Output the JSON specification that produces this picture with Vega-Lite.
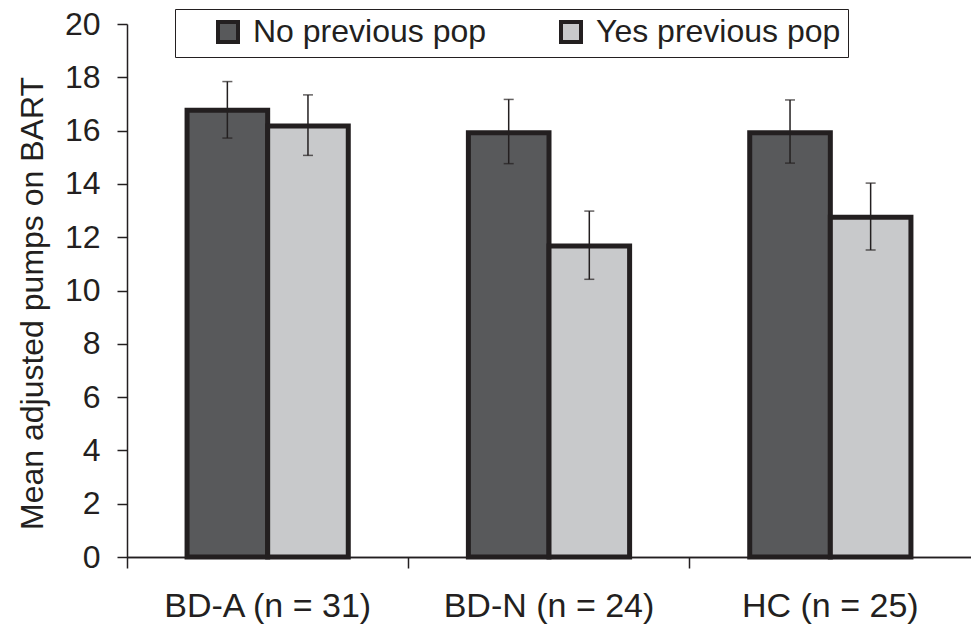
{
  "$schema": "https://vega.github.io/schema/vega-lite/v6.json",
  "width": 844,
  "height": 533,
  "autosize": {"type": "none"},
  "padding": {"left": 127, "top": 24, "right": 0, "bottom": 72},
  "background": "white",
  "config": {
    "view": {"stroke": null},
    "font": "Liberation Sans",
    "axis": {
      "domainColor": "#231f20",
      "domainWidth": 1.5,
      "tickColor": "#231f20",
      "tickWidth": 1.5,
      "tickSize": 10,
      "labelFontSize": 32,
      "labelColor": "#231f20",
      "titleColor": "#231f20",
      "grid": false
    }
  },
  "data": {
    "values": [
      {"group": "BD-A (n = 31)", "prev": "No previous pop", "mean": 16.76, "lo": 15.72, "hi": 17.84},
      {"group": "BD-A (n = 31)", "prev": "Yes previous pop", "mean": 16.17, "lo": 15.07, "hi": 17.34},
      {"group": "BD-N (n = 24)", "prev": "No previous pop", "mean": 15.92, "lo": 14.76, "hi": 17.17},
      {"group": "BD-N (n = 24)", "prev": "Yes previous pop", "mean": 11.67, "lo": 10.42, "hi": 12.98},
      {"group": "HC (n = 25)", "prev": "No previous pop", "mean": 15.92, "lo": 14.78, "hi": 17.15},
      {"group": "HC (n = 25)", "prev": "Yes previous pop", "mean": 12.75, "lo": 11.52, "hi": 14.03}
    ]
  },
  "resolve": {"axis": {"x": "independent"}},
  "layer": [
    {
      "mark": {"type": "bar", "stroke": "#231f20", "strokeWidth": 5},
      "encoding": {
        "x": {
          "field": "group", "type": "nominal",
          "sort": ["BD-A (n = 31)", "BD-N (n = 24)", "HC (n = 25)"],
          "scale": {"paddingInner": 0, "paddingOuter": 0},
          "axis": {"title": null, "orient": "bottom", "ticks": false, "tickSize": 0, "domain": true, "labelPadding": 32, "labelFontSize": 34, "labelAngle": 0, "labelLimit": 400}
        },
        "xOffset": {
          "field": "prev", "type": "nominal",
          "sort": ["No previous pop", "Yes previous pop"],
          "scale": {"paddingInner": 0, "paddingOuter": 0.745}
        },
        "y": {
          "field": "mean", "type": "quantitative",
          "scale": {"domain": [0, 20], "nice": false},
          "axis": {
            "values": [0, 2, 4, 6, 8, 10, 12, 14, 16, 18, 20],
            "title": "Mean adjusted pumps on BART",
            "titleFontSize": 32,
            "titleFontWeight": "normal",
            "titlePadding": 15,
            "titleY": 279,
            "labelPadding": 17
          }
        },
        "fill": {
          "field": "prev", "type": "nominal",
          "scale": {"domain": ["No previous pop", "Yes previous pop"], "range": ["#58595b", "#c8c9cb"]},
          "legend": {
            "orient": "none",
            "legendX": 48,
            "legendY": -15,
            "direction": "horizontal",
            "title": "\u00a0",
            "titleOrient": "left",
            "titleFontSize": 32,
            "titlePadding": 30,
            "padding": 7,
            "strokeColor": "#231f20",
            "fillColor": "white",
            "symbolType": "square",
            "symbolSize": 400,
            "symbolStrokeColor": "#231f20",
            "symbolStrokeWidth": 4,
            "symbolOpacity": 1,
            "labelFontSize": 32,
            "labelColor": "#231f20",
            "labelOffset": 9,
            "labelLimit": 400,
            "columnPadding": 66
          }
        }
      }
    },
    {
      "mark": {"type": "rule", "color": "#231f20", "strokeWidth": 1.5},
      "encoding": {
        "x": {
          "field": "group", "type": "nominal",
          "sort": ["BD-A (n = 31)", "BD-N (n = 24)", "HC (n = 25)"],
          "scale": {"paddingInner": 0, "paddingOuter": 0},
          "axis": {"title": null, "orient": "bottom", "labels": false, "ticks": true, "tickSize": 11, "bandPosition": 0, "domain": true}
        },
        "xOffset": {
          "field": "prev", "type": "nominal",
          "sort": ["No previous pop", "Yes previous pop"],
          "scale": {"paddingInner": 0, "paddingOuter": 0.745}
        },
        "y": {"field": "lo", "type": "quantitative"},
        "y2": {"field": "hi"}
      }
    },
    {
      "mark": {"type": "tick", "orient": "horizontal", "color": "#231f20", "size": 10, "thickness": 1.5},
      "encoding": {
        "x": {
          "field": "group", "type": "nominal",
          "sort": ["BD-A (n = 31)", "BD-N (n = 24)", "HC (n = 25)"],
          "scale": {"paddingInner": 0, "paddingOuter": 0},
          "axis": null
        },
        "xOffset": {
          "field": "prev", "type": "nominal",
          "sort": ["No previous pop", "Yes previous pop"],
          "scale": {"paddingInner": 0, "paddingOuter": 0.745}
        },
        "y": {"field": "lo", "type": "quantitative"}
      }
    },
    {
      "mark": {"type": "tick", "orient": "horizontal", "color": "#231f20", "size": 10, "thickness": 1.5},
      "encoding": {
        "x": {
          "field": "group", "type": "nominal",
          "sort": ["BD-A (n = 31)", "BD-N (n = 24)", "HC (n = 25)"],
          "scale": {"paddingInner": 0, "paddingOuter": 0},
          "axis": null
        },
        "xOffset": {
          "field": "prev", "type": "nominal",
          "sort": ["No previous pop", "Yes previous pop"],
          "scale": {"paddingInner": 0, "paddingOuter": 0.745}
        },
        "y": {"field": "hi", "type": "quantitative"}
      }
    }
  ]
}
